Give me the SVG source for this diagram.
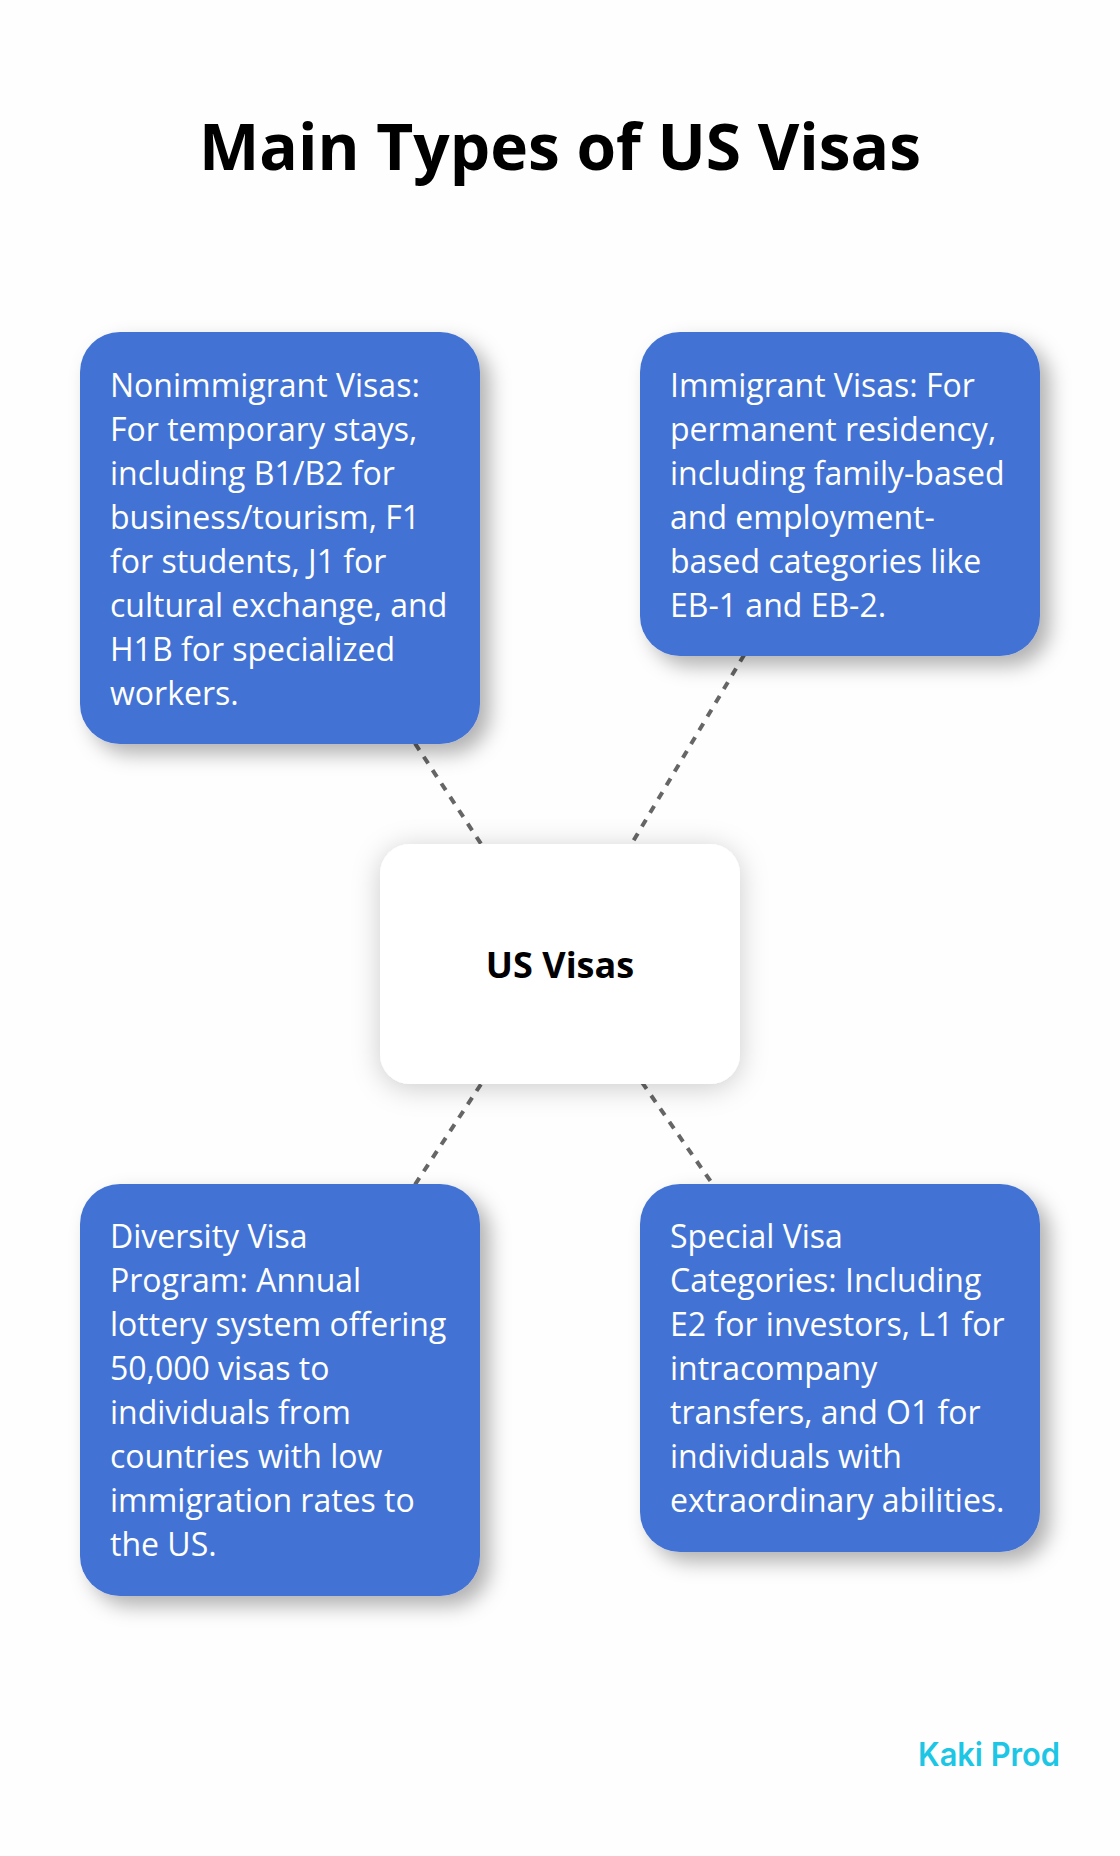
<svg xmlns="http://www.w3.org/2000/svg" width="1120" height="1856" viewBox="0 0 1120 1856">
<defs>
<filter id="sb" x="-20%" y="-20%" width="140%" height="140%"><feDropShadow dx="10" dy="10" stdDeviation="10" flood-color="#000" flood-opacity="0.3"/></filter>
<filter id="sw" x="-20%" y="-20%" width="140%" height="140%"><feDropShadow dx="0" dy="4" stdDeviation="14" flood-color="#000" flood-opacity="0.2"/></filter>
</defs>
<style>
text{font-family:"Open Sans","Noto Sans",sans-serif}
.box{fill:#4373d4}
.t{font-size:32px;fill:#fff}
.title{font-size:64px;font-weight:700;fill:#000;text-anchor:middle}
.c{font-size:36px;font-weight:700;fill:#000;text-anchor:middle}
.conn line{stroke:#666;stroke-width:4;stroke-dasharray:8 8}
</style>
<rect width="1120" height="1856" fill="#fefefe"/>
<text id="title" class="title" x="560" y="170">Main Types of US Visas</text>
<g id="connectors" class="conn">
<line x1="560" y1="964" x2="280" y2="538"/>
<line x1="560" y1="964" x2="840" y2="494"/>
<line x1="560" y1="964" x2="280" y2="1390"/>
<line x1="560" y1="964" x2="840" y2="1368"/>
</g>
<g id="node-nonimmigrant">
<rect class="box" x="80" y="332" width="400" height="412" rx="40" filter="url(#sb)"/>
<text class="t"><tspan x="110" y="397">Nonimmigrant Visas:</tspan><tspan x="110" y="441">For temporary stays,</tspan><tspan x="110" y="485">including B1/B2 for</tspan><tspan x="110" y="529">business/tourism, F1</tspan><tspan x="110" y="573">for students, J1 for</tspan><tspan x="110" y="617">cultural exchange, and</tspan><tspan x="110" y="661">H1B for specialized</tspan><tspan x="110" y="705">workers.</tspan></text>
</g>
<g id="node-immigrant">
<rect class="box" x="640" y="332" width="400" height="324" rx="40" filter="url(#sb)"/>
<text class="t"><tspan x="670" y="397">Immigrant Visas: For</tspan><tspan x="670" y="441">permanent residency,</tspan><tspan x="670" y="485">including family-based</tspan><tspan x="670" y="529">and employment-</tspan><tspan x="670" y="573">based categories like</tspan><tspan x="670" y="617">EB-1 and EB-2.</tspan></text>
</g>
<g id="node-center">
<rect x="380" y="844" width="360" height="240" rx="30" fill="#fff" filter="url(#sw)"/>
<text class="c" x="560" y="978">US Visas</text>
</g>
<g id="node-diversity">
<rect class="box" x="80" y="1184" width="400" height="412" rx="40" filter="url(#sb)"/>
<text class="t"><tspan x="110" y="1248">Diversity Visa</tspan><tspan x="110" y="1292">Program: Annual</tspan><tspan x="110" y="1336">lottery system offering</tspan><tspan x="110" y="1380">50,000 visas to</tspan><tspan x="110" y="1424">individuals from</tspan><tspan x="110" y="1468">countries with low</tspan><tspan x="110" y="1512">immigration rates to</tspan><tspan x="110" y="1556">the US.</tspan></text>
</g>
<g id="node-special">
<rect class="box" x="640" y="1184" width="400" height="368" rx="40" filter="url(#sb)"/>
<text class="t"><tspan x="670" y="1248">Special Visa</tspan><tspan x="670" y="1292">Categories: Including</tspan><tspan x="670" y="1336">E2 for investors, L1 for</tspan><tspan x="670" y="1380">intracompany</tspan><tspan x="670" y="1424">transfers, and O1 for</tspan><tspan x="670" y="1468">individuals with</tspan><tspan x="670" y="1512">extraordinary abilities.</tspan></text>
</g>
<text id="logo" x="918" y="1766" font-size="32" font-weight="600" fill="#1cc6e4" style="font-family:Inter,Lato,sans-serif" textLength="142" lengthAdjust="spacingAndGlyphs">Kaki Prod</text>
</svg>
